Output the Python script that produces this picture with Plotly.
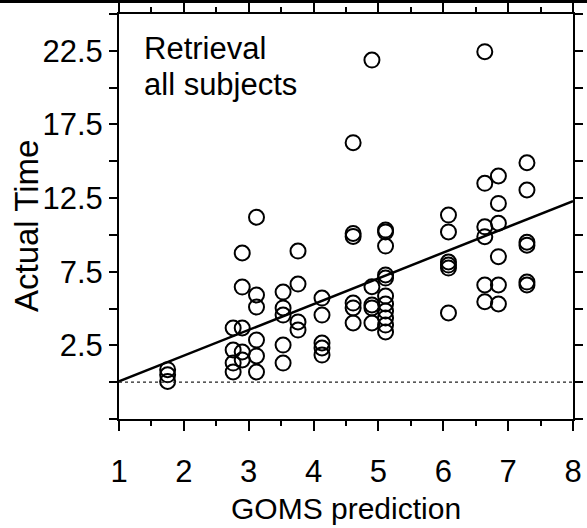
import plotly.graph_objects as go

# GOMS prediction (x) and actual time (y) for each observation, grouped by column
goms_cols = [1.75, 2.76, 2.90, 3.12, 3.53, 3.76, 4.13, 4.61, 4.90, 5.11, 6.08, 6.64, 6.85, 7.29]
actual_cols = [
    [0.85, 0.5, 0.05],
    [3.68, 2.18, 1.30, 0.69],
    [8.77, 6.46, 3.68, 2.05, 1.51],
    [11.2, 5.92, 5.1, 2.86, 1.78, 0.69],
    [6.12, 5.04, 4.56, 2.52, 1.30],
    [8.9, 6.66, 4.09, 3.54],
    [5.71, 4.56, 2.66, 2.32, 1.84],
    [16.26, 10.1, 9.9, 5.37, 5.04, 4.02],
    [21.87, 6.48, 5.24, 5.04, 4.02],
    [10.33, 10.2, 9.24, 7.28, 7.07, 5.85, 5.31, 4.83, 4.36, 3.88, 3.41],
    [11.35, 10.2, 8.16, 7.95, 7.75, 4.7],
    [22.44, 13.5, 10.55, 9.88, 6.6, 5.46],
    [14.0, 12.14, 10.79, 8.52, 6.6, 5.31],
    [14.9, 13.05, 9.5, 9.3, 6.8, 6.6],
]

goms_x = [gx for gx, col in zip(goms_cols, actual_cols) for _ in col]
actual_y = [v for col in actual_cols for v in col]

# Regression line
fit_intercept = -1.70
fit_slope = 1.75
fit_x = [1, 8]
fit_y = [fit_intercept + fit_slope * v for v in fit_x]

baseline_y = 0

x_ticks = [1, 2, 3, 4, 5, 6, 7, 8]
y_ticks = [-2.5, 0, 2.5, 5, 7.5, 10, 12.5, 15, 17.5, 20, 22.5, 25]
y_ticktext = ["", "", "2.5", "", "7.5", "", "12.5", "", "17.5", "", "22.5", ""]

FONT = "Liberation Sans, Arial, Helvetica, sans-serif"

fig = go.Figure()
fig.add_trace(go.Scatter(
    x=fit_x, y=fit_y, mode="lines",
    line=dict(color="black", width=2.5), showlegend=False, hoverinfo="skip",
))
fig.add_trace(go.Scatter(
    x=goms_x, y=actual_y, mode="markers",
    marker=dict(symbol="circle-open", size=15, color="black", line=dict(width=2, color="black")),
    showlegend=False,
))

fig.update_layout(
    width=587, height=528,
    margin=dict(l=119, r=14, t=14, b=109),
    paper_bgcolor="white", plot_bgcolor="white",
    font=dict(family=FONT, color="black"),
    xaxis=dict(
        range=[1, 8], tickvals=x_ticks, ticktext=[str(v) for v in x_ticks],
        showgrid=False, zeroline=False, automargin=False,
        showline=True, linecolor="black", linewidth=2, mirror="allticks",
        ticks="outside", ticklen=10, tickwidth=2, tickcolor="black",
        minor=dict(dtick=0.5, ticks="outside", ticklen=5, tickwidth=2, tickcolor="black", showgrid=False),
        tickfont=dict(size=31, family=FONT), ticklabelstandoff=14,
    ),
    yaxis=dict(
        range=[-2.5, 25], tickvals=y_ticks, ticktext=y_ticktext,
        showgrid=False, zeroline=False, automargin=False,
        showline=True, linecolor="black", linewidth=2, mirror="allticks",
        ticks="outside", ticklen=8, tickwidth=2, tickcolor="black",
        tickfont=dict(size=31, family=FONT),
    ),
    annotations=[
        dict(xref="paper", yref="paper", x=(26 - 119) / 454, y=0.4765, xanchor="center", yanchor="middle",
             text="Actual Time", textangle=-90, showarrow=False,
             font=dict(size=33, family=FONT, color="black")),
        dict(xref="paper", yref="paper", x=0.5, y=(419 - 527) / 405, xanchor="center", yanchor="bottom",
             text="GOMS prediction", showarrow=False,
             font=dict(size=30, family=FONT, color="black")),
        dict(xref="paper", yref="paper", x=0.05, y=0.9136, xanchor="left", yanchor="middle",
             text="Retrieval", showarrow=False, font=dict(size=31, family=FONT, color="black")),
        dict(xref="paper", yref="paper", x=0.05, y=0.827, xanchor="left", yanchor="middle",
             text="all subjects", showarrow=False, font=dict(size=31, family=FONT, color="black")),
    ],
    shapes=[
        dict(type="line", xref="paper", yref="y", x0=0, x1=1, y0=baseline_y, y1=baseline_y,
             line=dict(color="#222222", width=1.2, dash="dot")),
        dict(type="line", xref="paper", yref="paper", x0=-0.27, x1=1.04, y0=1.031, y1=1.031,
             line=dict(color="black", width=3, dash="solid")),
    ],
)

fig.write_html("out.html")
